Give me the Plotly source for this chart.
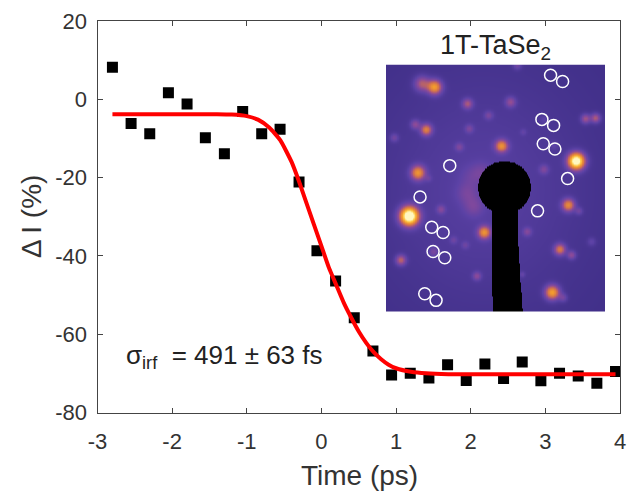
import numpy as np
import plotly.graph_objects as go

W, H = 631, 491
time_ps = [-2.80,-2.55,-2.30,-2.05,-1.80,-1.555,-1.30,-1.055,-0.80,-0.554,-0.30,-0.06,0.19,0.44,0.69,0.94,1.19,1.44,1.69,1.94,2.19,2.44,2.69,2.94,3.19,3.44,3.69,3.94]
delta_i = [8.2,-6.2,-8.8,1.7,-1.2,-9.8,-13.9,-3.1,-8.8,-7.65,-21.1,-38.7,-46.4,-55.8,-64.3,-70.4,-70.0,-71.2,-67.8,-71.8,-67.6,-71.3,-67.1,-71.9,-70.0,-70.7,-72.5,-69.5]
fit_t = [-2.8,-2.0,-1.4,-1.2,-1.0,-0.85,-0.7,-0.55,-0.4,-0.3,-0.2,-0.1,0.0,0.1,0.2,0.3,0.4,0.5,0.6,0.7,0.8,0.9,1.0,1.2,1.4,1.7,2.5,3.94]
fit_i = [-3.8,-3.8,-3.8,-3.9,-4.3,-5.2,-7.2,-10.5,-16,-21,-26.5,-32,-37.5,-43,-47.5,-52,-55.8,-59.3,-62.2,-64.6,-66.4,-67.8,-68.7,-69.6,-70.0,-70.2,-70.2,-70.2]

# diffraction spots: column, row, brightness, width (in inset picture units)
spot_col = [155,193,292,420,355,135,168,72,297,645,675,393,267,617,143,520,593,117,212,342,470,625,568,603,92,320,545,578,663,285,250,190,440,458,455,175,305,290,310,335,520,550]
spot_row = [160,170,220,215,255,282,298,322,295,265,263,347,350,393,428,418,525,558,538,607,605,543,658,675,690,738,787,803,635,645,630,665,105,305,733,445,440,490,530,425,268,345]
spot_amp = [.27,.48,.24,.20,.13,.19,.38,.13,.13,.24,.27,.42,.13,.85,.44,.14,.42,.90,.15,.42,.15,.12,.36,.20,.29,.18,.50,.13,.09,.09,.09,.13,.13,.07,.09,.07,.06,.09,.10,.07,.06,.06]
spot_wid = [16,15,11,11,9,10,12,9,9,10,10,13,9,17,15,10,13,19,9,13,9,8,12,9,11,9,15,9,9,8,8,10,9,7,6,7,24,22,20,20,9,9]
ring_col = [541,577,515,550,519,554,239,592,150,502,185,219,189,224,164,198]
ring_row = [135,154,268,286,341,357,407,446,501,543,592,608,665,684,792,812]
stop_row = [535,560,600,700,800,847]
stop_left = [366,364,364,365,366,368]
stop_right = [440,441,442,446,453,457]
stop_center = [402,472]
stop_radius = 79

cols = np.arange(48, 705, 2.0)
rows = np.arange(103, 848, 2.0)
cc, rr = np.meshgrid(cols, rows)
z = 0.24 + 0.08*np.exp(-(((cc-340)/300)**2 + ((rr-480)/340)**2))
for c, r, a, w in zip(spot_col, spot_row, spot_amp, spot_wid):
    z = z + a*np.exp(-((cc-c)**2+(rr-r)**2)/(2*w*w))
left = np.interp(rr, stop_row, stop_left)
right = np.interp(rr, stop_row, stop_right)
mask = ((cc-stop_center[0])**2+(rr-stop_center[1])**2 < stop_radius**2) | ((rr > 530) & (cc > left) & (cc < right))
z = np.where(mask, 0, np.clip(z, 0, 1))

scale = [[0,"#000000"],[0.12,"#1a1040"],[0.24,"#402f88"],[0.34,"#5c42a6"],[0.46,"#8a4a9a"],[0.6,"#cf6f50"],[0.75,"#f29a2e"],[0.9,"#ffd050"],[1,"#fff7c0"]]

axis_col = "#444444"
font = "Liberation Sans"
fig = go.Figure()
fig.add_trace(go.Scatter(x=time_ps, y=delta_i, mode="markers", marker=dict(symbol="square", size=11, color="black"), showlegend=False, xaxis="x", yaxis="y"))
fig.add_trace(go.Scatter(x=fit_t, y=fit_i, mode="lines", line=dict(color="#ff0000", width=4, shape="spline", smoothing=0.5), showlegend=False, xaxis="x", yaxis="y"))
fig.add_trace(go.Heatmap(x=cols, y=rows, z=z, colorscale=scale, zmin=0, zmax=1, zsmooth="best", showscale=False, xaxis="x2", yaxis="y2"))
fig.add_trace(go.Scatter(x=ring_col, y=ring_row, mode="markers", marker=dict(symbol="circle-open", size=12, color="white", line=dict(width=1.5, color="white")), showlegend=False, xaxis="x2", yaxis="y2"))

ax = dict(showgrid=False, zeroline=False, showline=True, linecolor=axis_col, linewidth=1, mirror="ticks", ticks="inside", ticklen=5, tickcolor=axis_col, tickwidth=1, automargin=False, tickfont=dict(family=font, size=22, color="#333333"))
txt = dict(showarrow=False, xref="paper", yref="paper", xanchor="center", yanchor="middle")
fig.update_layout(
    width=W, height=H, margin=dict(l=0, r=0, t=0, b=0, autoexpand=False), paper_bgcolor="white", plot_bgcolor="white",
    font=dict(family=font, color="#333333"),
    xaxis=dict(ax, domain=[97.5/W, 620/W], range=[-3, 4], tickvals=[-3,-2,-1,0,1,2,3,4], ticktext=["-3","-2","-1","0","1","2","3","4"], ticklabelstandoff=9),
    yaxis=dict(ax, domain=[1-412.5/H, 1-21/H], range=[-80, 20], tickvals=[-80,-60,-40,-20,0,20], ticktext=["-80","-60","-40","-20","0","20"], ticklabelstandoff=5),
    xaxis2=dict(domain=[386/W, 605/W], range=[48, 704], visible=False, anchor="y2"),
    yaxis2=dict(domain=[1-312/H, 1-64.5/H], range=[847, 103], visible=False, anchor="x2"),
    annotations=[
        dict(txt, text="Time (ps)", x=359/W, y=1-475/H, font=dict(family=font, size=28, color="#333333")),
        dict(txt, text="Δ\u2009I (%)", x=31/W, y=1-217/H, textangle=-90, font=dict(family=font, size=28, color="#333333")),
        dict(txt, text="σ<sub>irf</sub>\u00a0\u00a0= 491 ± 63 fs", x=224/W, y=1-356/H, font=dict(family=font, size=26, color="#222222")),
        dict(txt, text="1T-TaSe<sub>2</sub>", x=495/W, y=1-47/H, font=dict(family=font, size=27, color="#222222")),
    ],
)
fig.write_html("out.html", config=dict(displayModeBar=False), post_script="document.body.style.margin='0';document.documentElement.style.overflow='hidden';")
